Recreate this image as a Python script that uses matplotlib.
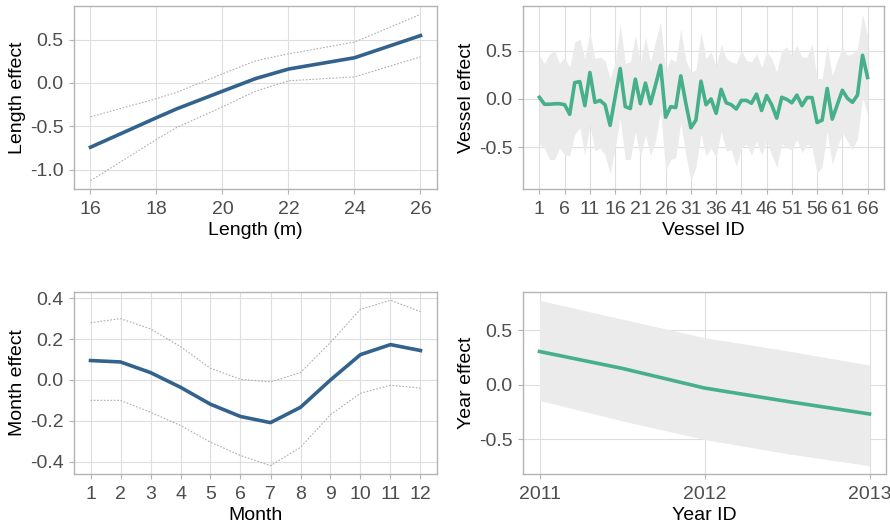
import matplotlib
matplotlib.use("Agg")
import matplotlib.pyplot as plt
import numpy as np

plt.rcParams['font.family'] = ['Liberation Sans', 'DejaVu Sans']
plt.rcParams['axes.unicode_minus'] = False

# --- data ---
length_x = [16, 18, 18.6, 20, 21, 22, 24, 26]
length_fit = [-0.74, -0.40, -0.30, -0.095, 0.05, 0.16, 0.29, 0.545]
length_up = [-0.39, -0.18, -0.11, 0.105, 0.255, 0.335, 0.47, 0.79]
length_lo = [-1.125, -0.65, -0.515, -0.275, -0.095, 0.025, 0.07, 0.30]

vessel_id = list(range(1, 67))
vessel_fit = [0.017, -0.055, -0.055, -0.05, -0.05, -0.06, -0.16, 0.17, 0.18, -0.07,
              0.275, -0.035, -0.015, -0.06, -0.275, 0.02, 0.316, -0.08, -0.10, 0.206,
              -0.05, 0.165, -0.05, 0.145, 0.35, -0.19, -0.08, -0.09, 0.24, -0.045,
              -0.30, -0.22, 0.185, -0.06, 0.0, -0.15, 0.10, -0.04, -0.06, -0.105,
              -0.015, -0.015, -0.045, 0.05, -0.12, 0.035, -0.06, -0.20, 0.017, -0.005,
              -0.04, 0.04, -0.07, 0.014, 0.014, -0.245, -0.22, 0.11, -0.21, -0.06,
              0.09, 0.007, -0.035, 0.04, 0.454, 0.223]
vessel_up = [0.45, 0.37, 0.47, 0.50, 0.37, 0.435, 0.33, 0.59, 0.625, 0.42,
             0.69, 0.42, 0.435, 0.40, 0.21, 0.385, 0.78, 0.37, 0.385, 0.66,
             0.385, 0.64, 0.385, 0.60, 0.80, 0.28, 0.42, 0.385, 0.73, 0.40,
             0.28, 0.30, 0.70, 0.42, 0.49, 0.33, 0.57, 0.42, 0.385, 0.37,
             0.505, 0.40, 0.385, 0.47, 0.33, 0.49, 0.42, 0.28, 0.505, 0.54,
             0.454, 0.557, 0.436, 0.436, 0.574, 0.213, 0.213, 0.557, 0.247, 0.40,
             0.54, 0.454, 0.47, 0.52, 0.88, 0.66]
vessel_lo = [-0.47, -0.51, -0.63, -0.63, -0.51, -0.58, -0.59, -0.37, -0.30, -0.58,
             -0.27, -0.54, -0.51, -0.58, -0.78, -0.51, -0.20, -0.63, -0.63, -0.34,
             -0.61, -0.37, -0.59, -0.44, -0.13, -0.75, -0.63, -0.61, -0.25, -0.58,
             -0.85, -0.71, -0.36, -0.59, -0.51, -0.61, -0.34, -0.54, -0.53, -0.70,
             -0.51, -0.47, -0.58, -0.44, -0.58, -0.44, -0.58, -0.71, -0.47, -0.51,
             -0.53, -0.42, -0.56, -0.47, -0.51, -0.78, -0.70, -0.34, -0.68, -0.51,
             -0.35, -0.44, -0.53, -0.41, 0.02, -0.165]

month = list(range(1, 13))
month_fit = [0.095, 0.088, 0.036, -0.036, -0.119, -0.179, -0.209, -0.134, 0.0, 0.124, 0.173, 0.144]
month_up = [0.28, 0.30, 0.25, 0.163, 0.057, 0.003, -0.01, 0.036, 0.184, 0.346, 0.39, 0.334]
month_lo = [-0.10, -0.10, -0.158, -0.223, -0.305, -0.37, -0.42, -0.33, -0.17, -0.065, -0.026, -0.04]

year = [2011, 2011.5, 2012, 2012.5, 2013]
year_fit = [0.304, 0.15, -0.03, -0.152, -0.267]
year_up = [0.772, 0.60, 0.43, 0.31, 0.18]
year_lo = [-0.143, -0.33, -0.50, -0.63, -0.74]

blue = '#33638D'
green = '#46B08A'
band = '#EBEBEB'
ci_grey = '#AFAFAF'

W, H = 890, 527
fig = plt.figure(figsize=(W / 100, H / 100), dpi=100)


def box(l, t, r, b):
    return fig.add_axes([l / W, 1 - b / H, (r - l) / W, (b - t) / H])


def style(ax, xlabel, ylabel):
    ax.set_facecolor('white')
    for s in ax.spines.values():
        s.set_color('#B3B3B3')
        s.set_linewidth(1.0)
    ax.grid(True, color='#DEDEDE', linewidth=0.8)
    ax.set_axisbelow(True)
    ax.tick_params(colors='#B3B3B3', labelcolor='#4D4D4D', labelsize=14, length=3.5, width=0.8)
    ax.tick_params(axis='x', pad=5)
    ax.tick_params(axis='y', pad=4)
    ax.set_xlabel(xlabel, fontsize=14, color='black', labelpad=3)
    ax.set_ylabel(ylabel, fontsize=14, color='black', labelpad=3)


# Length
ax1 = box(74, 6, 437, 189)
ax1.plot(length_x, length_up, color=ci_grey, lw=0.8, ls=(0, (1.5, 1.5)))
ax1.plot(length_x, length_lo, color=ci_grey, lw=0.8, ls=(0, (1.5, 1.5)))
ax1.plot(length_x, length_fit, color=blue, lw=2.6)
ax1.set_xticks([16, 18, 20, 22, 24, 26])
ax1.set_yticks([-1.0, -0.5, 0.0, 0.5])
ax1.set_yticklabels(['-1.0', '-0.5', '0.0', '0.5'])
style(ax1, 'Length (m)', 'Length effect')

# Vessel
ax2 = box(523, 6, 884, 189)
ax2.fill_between(vessel_id, vessel_lo, vessel_up, color=band, lw=0)
ax2.plot(vessel_id, vessel_fit, color=green, lw=2.6)
ax2.set_xticks(list(range(1, 67, 5)))
ax2.set_yticks([-0.5, 0.0, 0.5])
ax2.set_yticklabels(['-0.5', '0.0', '0.5'])
style(ax2, 'Vessel ID', 'Vessel effect')

# Month
ax3 = box(74, 292, 437, 474)
ax3.plot(month, month_up, color=ci_grey, lw=0.8, ls=(0, (1.5, 1.5)))
ax3.plot(month, month_lo, color=ci_grey, lw=0.8, ls=(0, (1.5, 1.5)))
ax3.plot(month, month_fit, color=blue, lw=2.6)
ax3.set_xticks(month)
ax3.set_yticks([-0.4, -0.2, 0.0, 0.2, 0.4])
ax3.set_yticklabels(['-0.4', '-0.2', '0.0', '0.2', '0.4'])
style(ax3, 'Month', 'Month effect')

# Year
ax4 = box(523, 292, 886, 474)
ax4.fill_between(year, year_lo, year_up, color=band, lw=0)
ax4.plot(year, year_fit, color=green, lw=2.6)
ax4.set_xticks([2011, 2012, 2013])
ax4.set_yticks([-0.5, 0.0, 0.5])
ax4.set_yticklabels(['-0.5', '0.0', '0.5'])
style(ax4, 'Year ID', 'Year effect')

fig.savefig('out.png', dpi=100, facecolor='white')
